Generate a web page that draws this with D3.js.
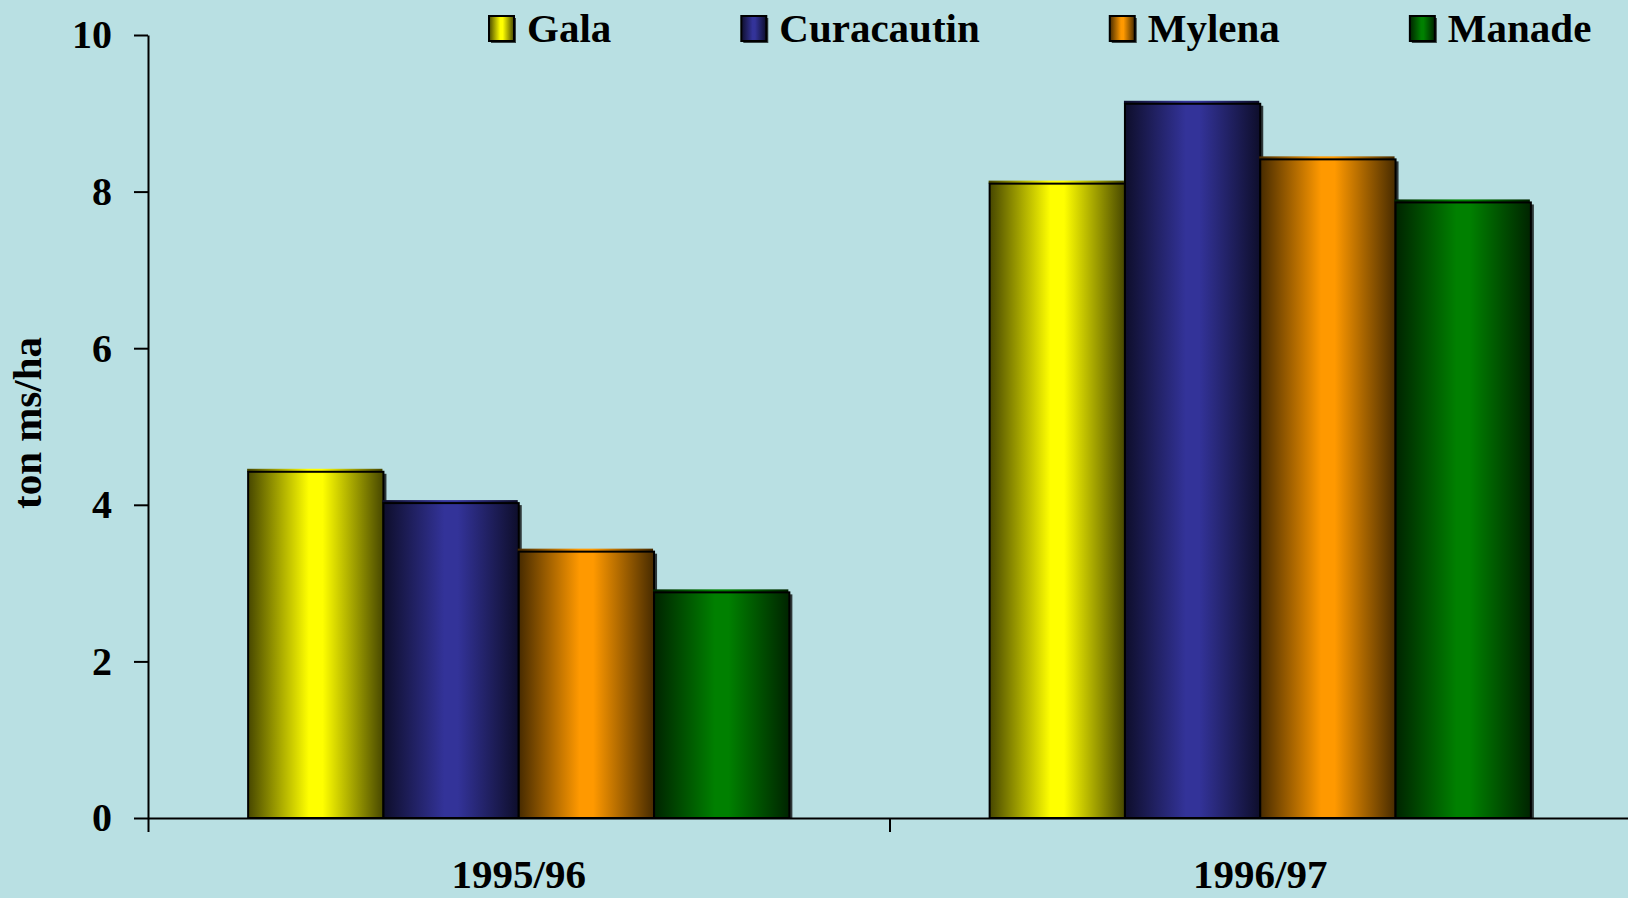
<!DOCTYPE html>
<html>
<head>
<meta charset="utf-8">
<script src="https://cdn.jsdelivr.net/npm/d3@7.9.0/dist/d3.min.js"></script>
<style>
  html, body { margin: 0; padding: 0; background: #b9e0e3; overflow: hidden; }
  svg { display: block; font-family: "Liberation Serif", "Times New Roman", serif; font-weight: bold; }
</style>
</head>
<body>
<svg id="chart" width="1628" height="898"></svg>
<script>
// data
const categories = ["1995/96", "1996/97"];
const series = ["Gala", "Curacautin", "Mylena", "Manade"];
const gala = [4.46, 8.14];
const curacautin = [4.06, 9.16];
const mylena = [3.44, 8.45];
const manade = [2.92, 7.90];
const seriesColors = ["#ffff00", "#333399", "#ff9900", "#008000"];
const yTicks = [0, 2, 4, 6, 8, 10];
const yLabel = "ton ms/ha";

const values = [gala, curacautin, mylena, manade];

const svg = d3.select("#chart");
const plotLeft = 148, plotRight = 1631, plotTop = 35, plotBottom = 818;

// gradients: dark edges, bright middle (cylinder look)
const defs = svg.append("defs");
seriesColors.forEach((c, i) => {
  const dark = d3.interpolateRgb("#000", c)(0.28);
  const g = defs.append("linearGradient").attr("id", "grad" + i)
    .attr("x1", "0%").attr("x2", "100%").attr("y1", "0%").attr("y2", "0%");
  g.append("stop").attr("offset", "0%").attr("stop-color", dark);
  g.append("stop").attr("offset", "45%").attr("stop-color", c);
  g.append("stop").attr("offset", "55%").attr("stop-color", c);
  g.append("stop").attr("offset", "100%").attr("stop-color", dark);
});

const x0 = d3.scaleBand().domain(categories).range([plotLeft, plotRight]).padding(0);
const x1 = d3.scaleBand().domain(series).range([0, x0.bandwidth()])
  .paddingInner(0).paddingOuter(0.74);
const y = d3.scaleLinear().domain([0, 10]).range([plotBottom, plotTop]);

// bars
categories.forEach((cat, ci) => {
  const g = svg.append("g");
  series.forEach((s, si) => {
    const v = values[si][ci];
    const bx = x0(cat) + x1(s);
    const bw = x1.bandwidth();
    const yt = y(v);
    // shadow
    g.append("rect")
      .attr("x", bx + 3).attr("y", yt + 5)
      .attr("width", bw).attr("height", y(0) - yt - 5)
      .attr("fill", "rgba(0,0,0,0.75)");
    // top face strip
    g.append("rect")
      .attr("x", bx - 1).attr("y", yt)
      .attr("width", bw).attr("height", 3)
      .attr("fill", `url(#grad${si})`);
    // body
    g.append("rect")
      .attr("x", bx).attr("y", yt + 3)
      .attr("width", bw).attr("height", y(0) - yt - 3)
      .attr("fill", `url(#grad${si})`)
      .attr("stroke", "#000").attr("stroke-width", 2);
  });
});

// y axis
const yAxis = svg.append("g")
  .attr("transform", `translate(${plotLeft},0)`)
  .call(d3.axisLeft(y).tickValues(yTicks).tickSize(14).tickSizeOuter(0).tickPadding(22));
yAxis.select(".domain").attr("stroke", "#000").attr("stroke-width", 2);
yAxis.selectAll(".tick line").attr("stroke", "#000").attr("stroke-width", 2);
yAxis.selectAll(".tick text")
  .attr("font-size", 40).attr("font-family", "Liberation Serif, serif")
  .attr("font-weight", "bold").attr("fill", "#000");

// x axis: ticks at category edges
const xe = d3.scaleLinear().domain([0, categories.length]).range([plotLeft, plotRight]);
const xAxis = svg.append("g")
  .attr("transform", `translate(0,${plotBottom})`)
  .call(d3.axisBottom(xe).tickValues(d3.range(categories.length + 1))
    .tickFormat("").tickSize(14).tickSizeOuter(0));
xAxis.select(".domain").attr("stroke", "#000").attr("stroke-width", 2);
xAxis.selectAll(".tick line").attr("stroke", "#000").attr("stroke-width", 2);

svg.append("g").selectAll("text").data(categories).join("text")
  .attr("x", d => x0(d) + x0.bandwidth() / 2)
  .attr("y", 888)
  .attr("text-anchor", "middle")
  .attr("font-size", 41)
  .text(d => d);

// y label
svg.append("text")
  .attr("transform", "translate(41,423) rotate(-90)")
  .attr("text-anchor", "middle")
  .attr("font-size", 41)
  .text(yLabel);

// legend, laid out left to right
const legend = svg.append("g");
let lx = 489;
series.forEach((s, i) => {
  const item = legend.append("g").attr("transform", `translate(${lx},0)`);
  item.append("rect").attr("x", 2).attr("y", 18).attr("width", 25).attr("height", 25)
    .attr("fill", "rgba(0,0,0,0.7)");
  item.append("rect").attr("x", 0).attr("y", 16).attr("width", 25).attr("height", 25)
    .attr("fill", `url(#grad${i})`).attr("stroke", "#000").attr("stroke-width", 2);
  const t = item.append("text").attr("x", 38).attr("y", 42)
    .attr("font-size", 41).text(s);
  lx += 38 + t.node().getComputedTextLength() + 130;
});
</script>
</body>
</html>
